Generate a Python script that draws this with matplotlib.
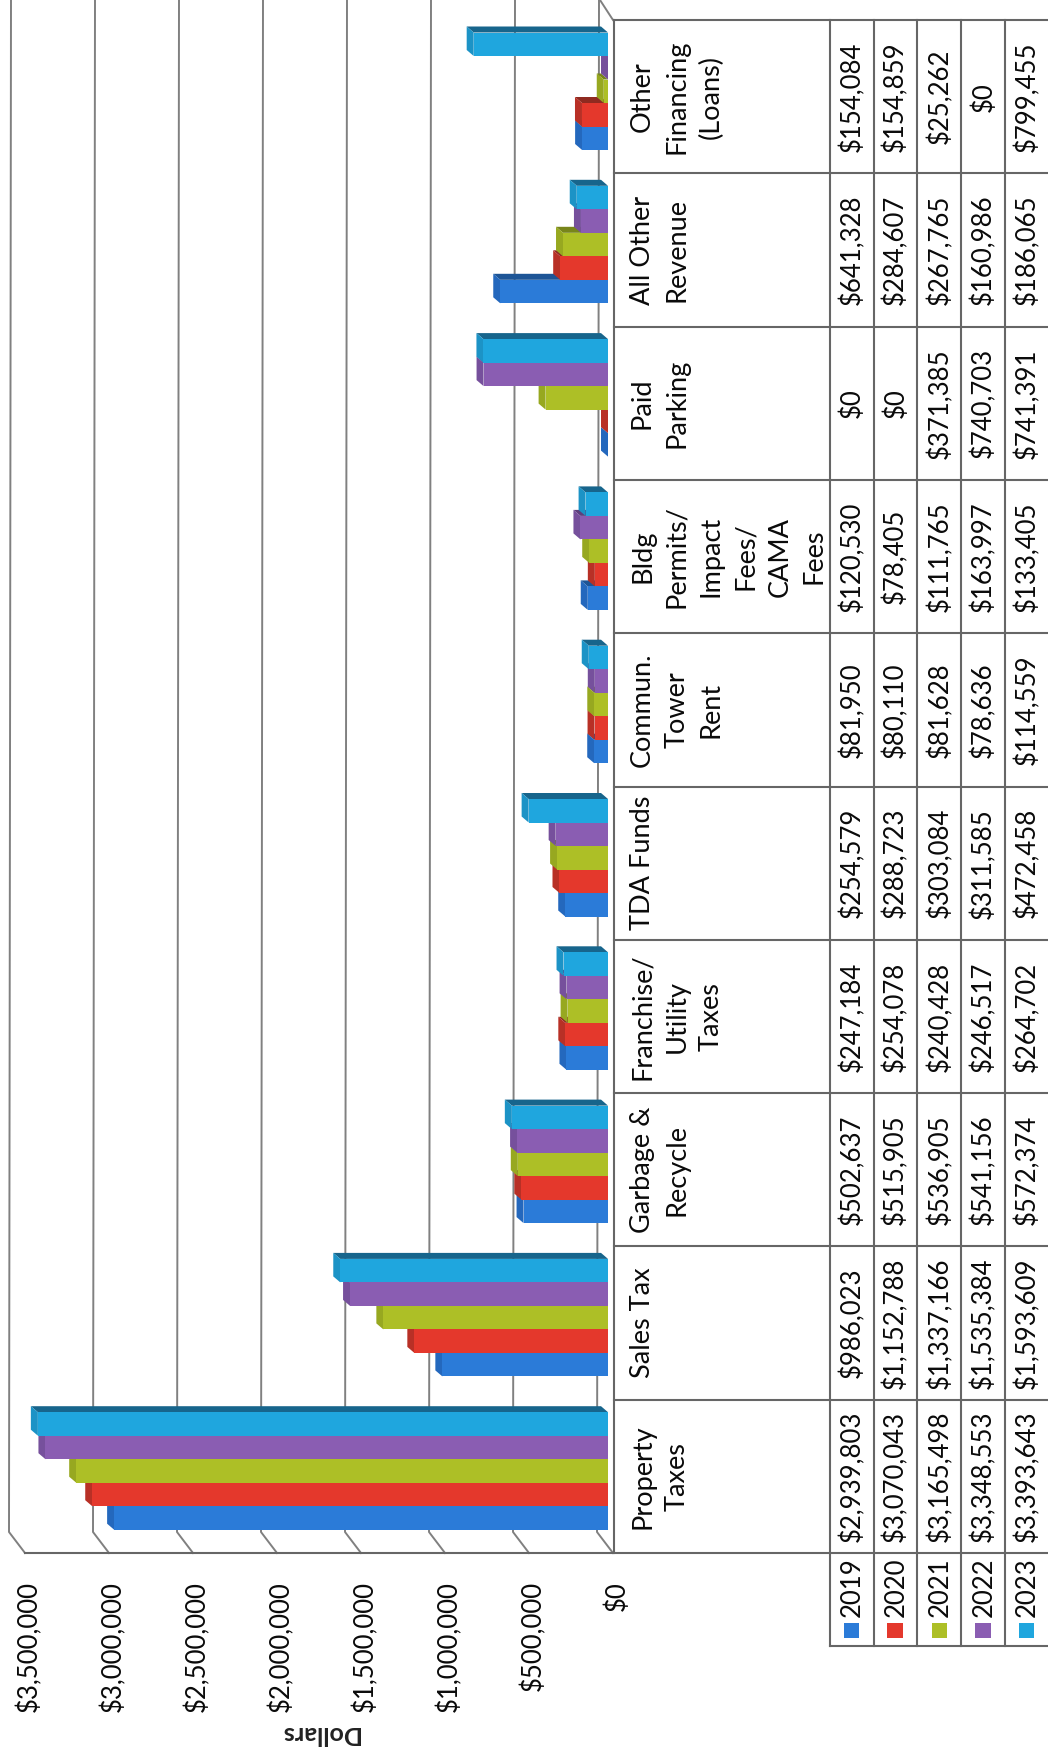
import matplotlib
matplotlib.use("Agg")
import matplotlib.pyplot as plt
from matplotlib.patches import Polygon, Rectangle

plt.rcParams['font.family'] = ['Lato', 'DejaVu Sans']

years = ['2019', '2020', '2021', '2022', '2023']

# categories run bottom to top on the page
categories = [
    ['Property', 'Taxes'],
    ['Sales Tax'],
    ['Garbage &', 'Recycle'],
    ['Franchise/', 'Utility', 'Taxes'],
    ['TDA Funds'],
    ['Commun.', 'Tower', 'Rent'],
    ['Bldg', 'Permits/', 'Impact', 'Fees/', 'CAMA', 'Fees'],
    ['Paid', 'Parking'],
    ['All Other', 'Revenue'],
    ['Other', 'Financing', '(Loans)'],
]

vals_2019 = [2939803, 986023, 502637, 247184, 254579, 81950, 120530, 0, 641328, 154084]
vals_2020 = [3070043, 1152788, 515905, 254078, 288723, 80110, 78405, 0, 284607, 154859]
vals_2021 = [3165498, 1337166, 536905, 240428, 303084, 81628, 111765, 371385, 267765, 25262]
vals_2022 = [3348553, 1535384, 541156, 246517, 311585, 78636, 163997, 740703, 160986, 0]
vals_2023 = [3393643, 1593609, 572374, 264702, 472458, 114559, 133405, 741391, 186065, 799455]
all_vals = [vals_2019, vals_2020, vals_2021, vals_2022, vals_2023]

ticks = [0, 500000, 1000000, 1500000, 2000000, 2500000, 3000000, 3500000]

face_colors = ['#2b7bd8', '#e4382c', '#adbf26', '#8a5db2', '#1fa6de']
cap_colors = ['#2468bd', '#b83026', '#97a820', '#76509c', '#1c93c6']
top_colors = ['#1d5596', '#8f2a20', '#78851a', '#5d3f7c', '#17658c']
line_color = '#808080'
table_color = '#666666'
text_color = '#0a0a0a'

W, H = 1048, 1753
fig = plt.figure(figsize=(W / 100, H / 100), dpi=100)

# pixel scale: 84 px per $500,000, bars grow to the left of x=608
px = 500000 / 84
ax = fig.add_axes([0, 0, 1, 1])
ax.set_xlim(608 * px, (608 - W) * px)
ax.set_ylim(H, 0)
ax.axis('off')

tbl = fig.add_axes([0, 0, 1, 1])
tbl.set_xlim(0, W)
tbl.set_ylim(H, 0)
tbl.axis('off')
tbl.patch.set_alpha(0)

row_h = 153.3
table_top = 20
n_cat = len(categories)


def cell_top(i):
    # category 0 sits in the lowest row
    return table_top + row_h * (n_cat - 1 - i)


# walls and floor
for t in ticks:
    back = t + 11 * px
    front = t - 5 * px
    ax.plot([back - 2 * px, back, front], [0, 1532, 1553], color=line_color, lw=1.4, zorder=1)
    ax.text(front - 12 * px, 1581, f'${t:,}', rotation=90, ha='right', va='baseline',
            rotation_mode='anchor', fontsize=18.5, color=text_color)
ax.plot([-5 * px, 8 * px], [20, 0], color=line_color, lw=1.4, zorder=1)

# 3D style bars, 2019 first so later years sit over its top strip
bar_h = 23.5
depth_x = 7 * px
depth_y = 6
for j in range(5):
    for i in range(n_cat):
        v = all_vals[j][i]
        y_top = cell_top(i) + 12.5 + bar_h * (4 - j)
        y_bot = y_top + bar_h
        ax.add_patch(Polygon([(0, y_top), (v, y_top), (v + depth_x, y_top - depth_y), (depth_x, y_top - depth_y)],
                             closed=True, fc=top_colors[j], ec='none', zorder=2 + j))
        ax.add_patch(Polygon([(v, y_top), (v, y_bot), (v + depth_x, y_bot - depth_y), (v + depth_x, y_top - depth_y)],
                             closed=True, fc=cap_colors[j], ec='none', zorder=2 + j))
        ax.barh(y_top + bar_h / 2, v, height=bar_h, color=face_colors[j], zorder=2 + j)

# data table
col_x = [830, 873.5, 917, 961, 1004.5]
base_x = [860, 903.5, 948, 991.5, 1035]
tbl.plot([25, W], [1553, 1553], color=table_color, lw=1.5)
tbl.plot([614, 614], [table_top, 1553], color=table_color, lw=1.5)
for k in range(n_cat):
    y = table_top + row_h * k
    tbl.plot([614, W], [y, y], color=table_color, lw=1.5)
for x in col_x:
    tbl.plot([x, x], [table_top, 1646], color=table_color, lw=1.5)
tbl.plot([830, W], [1646, 1646], color=table_color, lw=1.5)

label_base = 650
for i, lines in enumerate(categories):
    center = cell_top(i) + row_h / 2
    for n, line in enumerate(lines):
        tbl.text(label_base + 34.4 * n, center, line, rotation=90, ha='center', va='baseline',
                 rotation_mode='anchor', fontsize=19.5, color=text_color)
    for j in range(5):
        tbl.text(base_x[j], center, f'${all_vals[j][i]:,}', rotation=90, ha='center', va='baseline',
                 rotation_mode='anchor', fontsize=18.5, color=text_color)

# legend keys inside the table
for j in range(5):
    tbl.text(base_x[j], 1587.5, years[j], rotation=90, ha='center', va='baseline',
             rotation_mode='anchor', fontsize=18.5, color=text_color)
    tbl.add_patch(Rectangle((base_x[j] - 16.5, 1623), 15.5, 15, fc=face_colors[j], ec='none'))

tbl.text(319, 1733, 'Dollars', rotation=180, ha='center', va='center', fontsize=18,
         fontweight='bold', color='#222222')

fig.savefig('out.png', dpi=100, facecolor='white')
